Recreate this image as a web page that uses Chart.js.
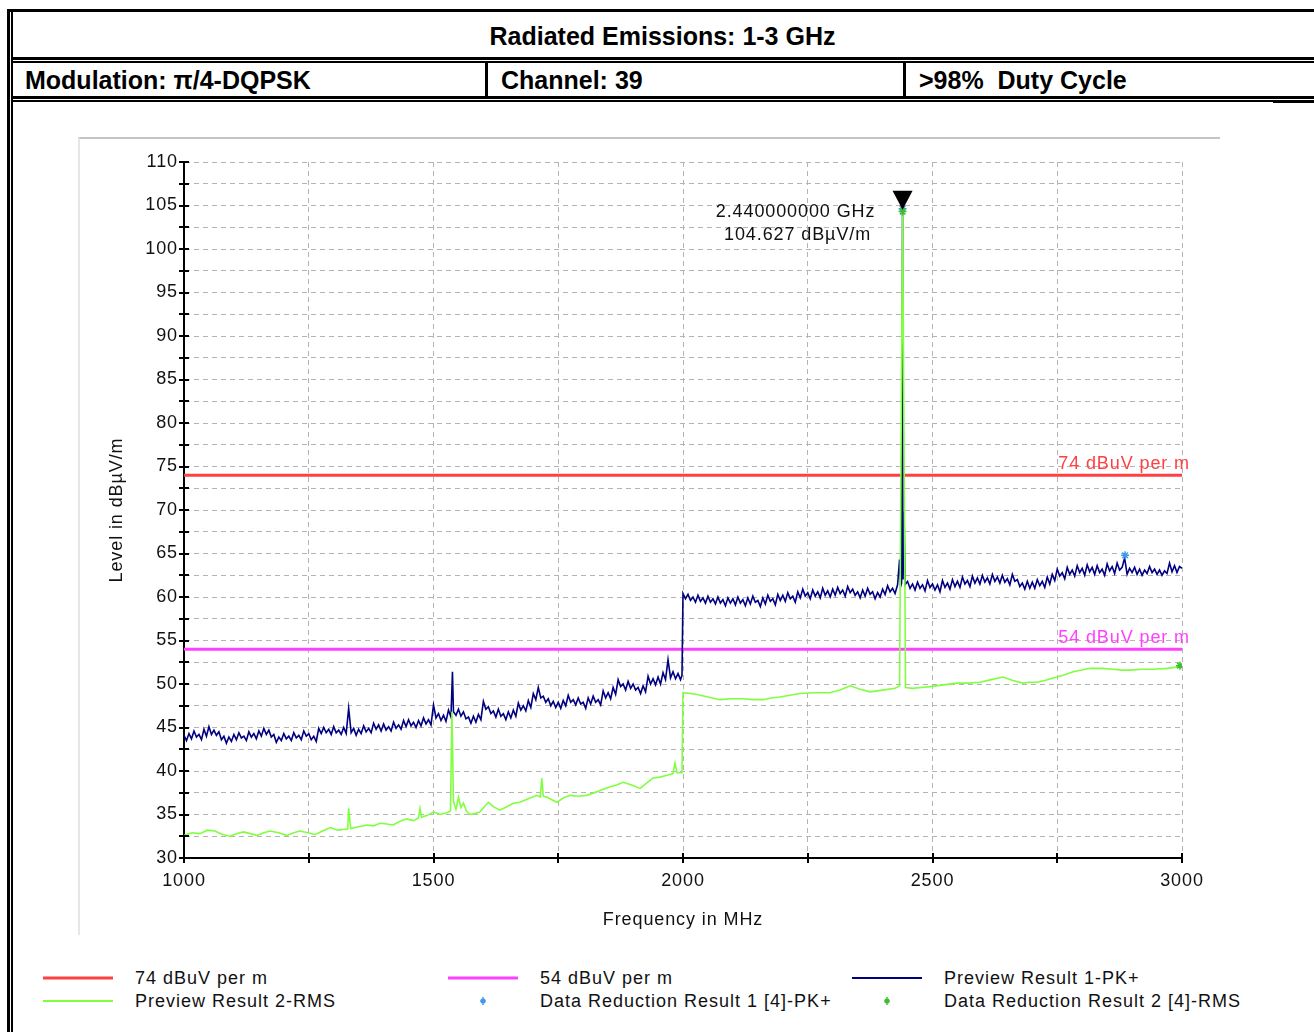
<!DOCTYPE html>
<html>
<head>
<meta charset="utf-8">
<title>Radiated Emissions: 1-3 GHz</title>
<script src="https://cdn.jsdelivr.net/npm/chart.js@4"></script>
<style>
body{margin:0;background:#fff;width:1314px;height:1032px;overflow:hidden;position:relative;font-family:"Liberation Sans",Arial,sans-serif}
.ln{position:absolute;background:#000}
.hd{position:absolute;font-weight:bold;font-size:25px;line-height:30px;white-space:pre;color:#000}
#wrap{position:absolute;left:78px;top:137px;width:1140px;height:796px;border-top:2px solid #c4c4c4;border-left:2px solid #e6e6e6}
#Chart{display:block}
.li{position:absolute;height:22px;font-size:18px;line-height:22px;color:#111;white-space:pre;letter-spacing:1px}
</style>
</head>
<body>
<!-- frame of the report table -->
<div class="ln" style="left:7px;top:9px;width:1307px;height:3px"></div>
<div class="ln" style="left:7px;top:9px;width:3px;height:1023px"></div>
<div class="ln" style="left:11px;top:12px;width:2px;height:1020px"></div>
<div class="ln" style="left:11px;top:57px;width:1303px;height:3px"></div>
<div class="ln" style="left:11px;top:61px;width:1303px;height:2px"></div>
<div class="ln" style="left:11px;top:96px;width:1303px;height:3px"></div>
<div class="ln" style="left:11px;top:100px;width:1262px;height:2px"></div>
<div class="ln" style="left:1273px;top:100px;width:41px;height:3px"></div>
<div class="ln" style="left:485px;top:61px;width:3px;height:37px"></div>
<div class="ln" style="left:903px;top:61px;width:3px;height:37px"></div>

<div class="hd" style="left:11px;width:1303px;top:21px;text-align:center">Radiated Emissions: 1-3 GHz</div>
<div class="hd" style="left:25px;top:65px">Modulation: π/4-DQPSK</div>
<div class="hd" style="left:501px;top:65px">Channel: 39</div>
<div class="hd" style="left:919px;top:65px">&gt;98%  Duty Cycle</div>

<div id="wrap"><canvas id="Chart" width="1140" height="796"></canvas></div>
<div id="legend"></div>

<script>
// limits (dBuV/m) over the scan range (MHz)
const limitFreq = [1000, 3000];
const limitHigh = 74;
const limitLow = 54;

// Preview Result 1-PK+  [MHz, dBuV/m], every 5 MHz
const pkTrace = [
[1000,44.1],[1005,43.5],[1010,44.3],[1015,43.7],[1020,44.6],[1025,43.9],[1030,44.2],[1035,43.6],[1040,44.8],[1045,44.0],
[1050,45.1],[1055,44.2],[1060,44.7],[1065,44.1],[1070,44.5],[1075,43.6],[1080,44.0],[1085,43.2],[1090,43.9],[1095,43.4],
[1100,44.2],[1105,43.6],[1110,44.4],[1115,43.8],[1120,44.0],[1125,43.5],[1130,44.5],[1135,43.9],[1140,44.3],[1145,43.7],
[1150,44.6],[1155,44.0],[1160,44.9],[1165,44.2],[1170,44.7],[1175,43.9],[1180,44.2],[1185,43.3],[1190,43.9],[1195,43.5],
[1200,44.3],[1205,43.7],[1210,44.0],[1215,43.5],[1220,44.4],[1225,43.8],[1230,44.1],[1235,43.6],[1240,44.6],[1245,44.0],
[1250,44.3],[1255,43.6],[1260,44.0],[1265,43.4],[1270,44.9],[1275,44.3],[1280,45.0],[1285,44.4],[1290,44.8],[1295,44.2],
[1300,45.1],[1305,44.4],[1310,44.7],[1315,44.2],[1320,45.0],[1325,44.3],[1330,47.2],[1335,44.4],[1340,44.9],[1345,44.1],
[1350,44.8],[1355,44.3],[1360,45.2],[1365,44.5],[1370,44.9],[1375,44.4],[1380,45.5],[1385,44.8],[1390,45.3],[1395,44.6],
[1400,45.4],[1405,44.7],[1410,45.1],[1415,44.6],[1420,45.6],[1425,44.9],[1430,45.3],[1435,44.8],[1440,45.8],[1445,45.1],
[1450,45.9],[1455,45.2],[1460,45.6],[1465,45.0],[1470,45.8],[1475,45.2],[1480,46.1],[1485,45.4],[1490,45.9],[1495,45.3],
[1500,47.6],[1505,46.1],[1510,46.6],[1515,45.8],[1520,46.4],[1525,45.7],[1530,47.0],[1535,46.2],[1538,51.4],[1540,46.8],[1545,46.4],
[1550,47.1],[1555,46.3],[1560,46.8],[1565,46.0],[1570,46.2],[1575,45.5],[1580,46.3],[1585,45.6],[1590,46.5],[1595,45.9],
[1600,48.0],[1605,47.1],[1610,47.4],[1615,46.6],[1620,46.9],[1625,46.2],[1630,47.1],[1635,46.3],[1640,46.6],[1645,45.9],
[1650,46.8],[1655,46.1],[1660,47.0],[1665,46.3],[1670,47.8],[1675,47.0],[1680,47.5],[1685,46.9],[1690,48.1],[1695,47.3],
[1700,48.9],[1705,48.2],[1710,49.6],[1715,48.4],[1720,48.6],[1725,47.9],[1730,48.3],[1735,47.5],[1740,48.0],[1745,47.3],
[1750,47.9],[1755,47.2],[1760,48.1],[1765,47.5],[1770,48.7],[1775,47.9],[1780,48.2],[1785,47.6],[1790,48.4],[1795,47.7],
[1800,47.9],[1805,47.2],[1810,48.4],[1815,47.7],[1820,48.6],[1825,47.9],[1830,48.2],[1835,47.6],[1840,49.2],[1845,48.4],
[1850,49.0],[1855,48.3],[1860,49.6],[1865,48.8],[1870,50.5],[1875,49.7],[1880,50.0],[1885,49.3],[1890,50.3],[1895,49.5],
[1900,50.0],[1905,49.3],[1910,49.6],[1915,48.9],[1920,49.8],[1925,49.1],[1930,50.9],[1935,50.0],[1940,50.6],[1945,49.9],
[1950,50.8],[1955,50.0],[1960,51.3],[1965,50.5],[1970,52.8],[1975,50.7],[1980,51.4],[1985,50.6],[1990,51.2],[1995,50.5],[1998,51.0],
[2000,60.4],[2005,59.8],[2010,60.3],[2015,59.6],[2020,60.0],[2025,59.4],[2030,60.2],[2035,59.5],[2040,59.9],[2045,59.3],
[2050,60.1],[2055,59.4],[2060,59.8],[2065,59.2],[2070,60.0],[2075,59.3],[2080,59.7],[2085,59.0],[2090,59.9],[2095,59.3],
[2100,59.8],[2105,59.1],[2110,60.0],[2115,59.3],[2120,59.7],[2125,59.0],[2130,59.9],[2135,59.2],[2140,60.1],[2145,59.4],
[2150,59.6],[2155,58.9],[2160,59.9],[2165,59.2],[2170,60.2],[2175,59.5],[2180,59.8],[2185,59.1],[2190,60.3],[2195,59.6],
[2200,60.2],[2205,59.5],[2210,60.5],[2215,59.8],[2220,60.1],[2225,59.4],[2230,60.6],[2235,59.9],[2240,60.9],[2245,60.1],
[2250,60.5],[2255,59.8],[2260,60.8],[2265,60.1],[2270,60.6],[2275,59.9],[2280,61.0],[2285,60.2],[2290,60.7],[2295,60.0],
[2300,60.9],[2305,60.2],[2310,61.1],[2315,60.4],[2320,60.8],[2325,60.1],[2330,61.2],[2335,60.5],[2340,60.9],[2345,60.2],
[2350,60.6],[2355,59.9],[2360,60.8],[2365,60.1],[2370,61.0],[2375,60.3],[2380,60.6],[2385,59.8],[2390,60.5],[2395,60.0],
[2400,60.9],[2405,60.3],[2410,61.3],[2415,60.6],[2420,61.0],[2425,60.4],[2430,61.4],[2434,64.3],[2436,61.2],[2438,61.6],
[2440,104.6],[2441,62.0],[2443,69.8],[2445,61.4],
[2450,61.8],[2455,61.0],[2460,61.5],[2465,60.8],[2470,61.7],[2475,61.0],[2480,61.4],[2485,60.7],[2490,61.9],[2495,61.1],
[2500,61.5],[2505,60.8],[2510,61.4],[2515,60.6],[2520,61.9],[2525,61.1],[2530,61.6],[2535,60.9],[2540,62.0],[2545,61.2],
[2550,61.8],[2555,61.1],[2560,62.3],[2565,61.5],[2570,61.9],[2575,61.2],[2580,62.4],[2585,61.6],[2590,62.2],[2595,61.5],
[2600,62.5],[2605,61.7],[2610,62.2],[2615,61.5],[2620,62.6],[2625,61.8],[2630,62.3],[2635,61.6],[2640,62.5],[2645,61.7],
[2650,62.1],[2655,61.4],[2660,62.6],[2665,61.8],[2670,62.0],[2675,61.2],[2680,61.6],[2685,60.9],[2690,61.8],[2695,61.0],
[2700,61.7],[2705,61.0],[2710,62.0],[2715,61.3],[2720,61.8],[2725,61.1],[2730,62.3],[2735,61.5],[2740,62.6],[2745,61.9],
[2750,63.2],[2755,62.4],[2760,62.8],[2765,62.1],[2770,63.4],[2775,62.6],[2780,63.1],[2785,62.4],[2790,63.6],[2795,62.8],
[2800,63.3],[2805,62.5],[2810,63.7],[2815,62.9],[2820,63.4],[2825,62.6],[2830,63.6],[2835,62.8],[2840,63.2],[2845,62.5],
[2850,63.8],[2855,63.0],[2860,63.5],[2865,62.7],[2870,63.9],[2875,63.1],[2880,63.4],[2885,64.5],[2890,62.6],[2895,63.3],
[2900,62.8],[2905,63.4],[2910,62.6],[2915,63.2],[2920,62.5],[2925,63.1],[2930,62.7],[2935,63.5],[2940,62.8],[2945,63.2],
[2950,62.6],[2955,63.1],[2960,62.5],[2965,63.0],[2970,62.7],[2975,63.9],[2980,62.9],[2985,63.6],[2990,62.8],[2995,63.5],
[3000,63.3]
];

// Preview Result 2-RMS  [MHz, dBuV/m]
const rmsTrace = [
[1000,32.6],[1016,32.9],[1032,32.8],[1047,33.2],[1062,33.1],[1077,32.7],[1092,32.5],[1105,32.8],[1119,33.0],[1133,32.8],
[1146,32.6],[1160,32.9],[1172,33.1],[1190,32.9],[1206,32.6],[1220,32.9],[1232,33.1],[1248,32.9],[1263,32.7],[1278,33.1],
[1293,33.5],[1308,33.2],[1323,33.3],[1328,33.3],[1330,35.7],[1334,33.4],[1350,33.6],[1366,33.8],[1380,33.7],[1393,34.0],
[1406,33.9],[1419,33.8],[1432,34.2],[1446,34.5],[1460,34.3],[1470,34.6],[1473,35.7],[1476,34.7],[1488,34.9],[1500,35.3],
[1514,35.0],[1527,35.2],[1534,35.4],[1537,46.8],[1540,36.5],[1545,35.6],[1550,37.0],[1555,35.8],[1560,36.3],[1566,35.4],
[1573,35.0],[1583,35.1],[1593,35.3],[1602,35.9],[1610,36.4],[1620,35.9],[1633,35.5],[1647,35.9],[1660,36.3],[1673,36.4],
[1690,36.8],[1707,37.2],[1714,37.0],[1717,39.2],[1720,37.1],[1727,37.0],[1737,36.7],[1747,36.4],[1760,36.9],[1774,37.2],
[1790,37.1],[1807,37.2],[1817,37.4],[1827,37.6],[1840,37.9],[1854,38.2],[1867,38.4],[1880,38.7],[1897,38.4],[1914,38.0],
[1927,38.6],[1940,39.2],[1954,39.3],[1968,39.5],[1980,39.7],[1984,40.9],[1988,39.8],[1998,39.8],[2000,49.0],[2014,48.9],
[2028,48.8],[2050,48.5],[2074,48.2],[2097,48.3],[2120,48.3],[2140,48.2],[2160,48.2],[2177,48.4],[2194,48.5],[2214,48.7],
[2234,48.9],[2264,49.0],[2294,49.0],[2315,49.3],[2335,49.8],[2355,49.4],[2375,49.1],[2400,49.3],[2425,49.5],[2434,49.8],
[2440,104.3],[2446,49.6],[2460,49.5],[2478,49.6],[2495,49.7],[2522,49.9],[2549,50.1],[2572,50.1],[2595,50.2],[2618,50.5],
[2641,50.8],[2661,50.4],[2681,50.1],[2695,50.2],[2709,50.2],[2725,50.4],[2742,50.7],[2762,51.0],[2782,51.4],[2799,51.6],
[2816,51.8],[2840,51.8],[2862,51.7],[2880,51.6],[2896,51.6],[2920,51.7],[2942,51.7],[2970,51.8],[2996,52.0],[3000,52.1]
];

// final measurement points
const pkFinal = [[2440,104.627],[2886,64.8]];
const rmsFinal = [[2440,104.3],[2996,52.1]];

// marker
const markerFreq = 2440;
const markerLevel = 104.627;
const markerText = ["2.440000000 GHz", "104.627 dBµV/m"];

const tickFont = {family: "Liberation Sans", size: 18};
const toXY = arr => arr.map(p => ({x: p[0], y: p[1]}));

const chartBits = {
    id: "chartBits",
    beforeDraw(chart) {
        chart.ctx.letterSpacing = "0.9px";
    },
    afterDatasetsDraw(chart) {
        const ctx = chart.ctx;
        const xs = chart.scales.x, ys = chart.scales.y;
        ctx.save();
        // limit labels
        ctx.font = "18px 'Liberation Sans'";
        ctx.textAlign = "right";
        ctx.textBaseline = "middle";
        ctx.fillStyle = "#ff4040";
        ctx.fillText("74 dBuV per m", xs.right + 8, ys.getPixelForValue(limitHigh) - 11);
        ctx.fillStyle = "#ff40ff";
        ctx.fillText("54 dBuV per m", xs.right + 8, ys.getPixelForValue(limitLow) - 11);
        // marker
        const mx = xs.getPixelForValue(markerFreq), my = ys.getPixelForValue(markerLevel);
        ctx.fillStyle = "#000";
        ctx.beginPath();
        ctx.moveTo(mx, my + 1);
        ctx.lineTo(mx - 10, my - 18);
        ctx.lineTo(mx + 10, my - 18);
        ctx.closePath();
        ctx.fill();
        ctx.textAlign = "center";
        ctx.fillStyle = "#111";
        ctx.fillText(markerText[0], mx - 107, my + 3);
        ctx.fillText(markerText[1], mx - 105, my + 26);
        ctx.restore();
    },
    afterDraw(chart) {
        const ctx = chart.ctx;
        const xs = chart.scales.x, ys = chart.scales.y;
        ctx.save();
        ctx.strokeStyle = "#000";
        ctx.lineWidth = 2;
        ctx.beginPath();
        ys.ticks.forEach(t => {
            const py = Math.round(ys.getPixelForValue(t.value));
            ctx.moveTo(xs.left - 5, py);
            ctx.lineTo(xs.left + 5, py);
        });
        xs.ticks.forEach(t => {
            const px = Math.round(xs.getPixelForValue(t.value));
            ctx.moveTo(px, ys.bottom - 5);
            ctx.lineTo(px, ys.bottom + 5);
        });
        ctx.stroke();
        ctx.restore();
    }
};

var myChart = new Chart(document.getElementById("Chart"), {
    type: "line",
    data: {
        datasets: [
            {label: "74 dBuV per m", data: toXY([[limitFreq[0], limitHigh], [limitFreq[1], limitHigh]]),
             borderColor: "#ff4040", borderWidth: 3, pointRadius: 0, order: 5},
            {label: "54 dBuV per m", data: toXY([[limitFreq[0], limitLow], [limitFreq[1], limitLow]]),
             borderColor: "#ff40ff", borderWidth: 3, pointRadius: 0, order: 4},
            {label: "Preview Result 1-PK+", data: toXY(pkTrace),
             borderColor: "#000080", borderWidth: 1.6, pointRadius: 0, order: 3},
            {label: "Preview Result 2-RMS", data: toXY(rmsTrace),
             borderColor: "#80ff40", borderWidth: 1.6, pointRadius: 0, order: 2},
            {label: "Data Reduction Result 1 [4]-PK+", data: toXY(pkFinal), showLine: false,
             borderColor: "#3d9be9", backgroundColor: "#3d9be9", pointStyle: "star", pointRadius: 4, borderWidth: 1.5, order: 1},
            {label: "Data Reduction Result 2 [4]-RMS", data: toXY(rmsFinal), showLine: false,
             borderColor: "#3cbf2c", backgroundColor: "#3cbf2c", pointStyle: "star", pointRadius: 4, borderWidth: 1.5, order: 0}
        ]
    },
    options: {
        responsive: false,
        animation: false,
        devicePixelRatio: 1,
        events: [],
        layout: {padding: {top: 23, right: 38, left: 0, bottom: 0}},
        elements: {line: {tension: 0}},
        plugins: {legend: {display: false}, tooltip: {enabled: false}},
        scales: {
            x: {
                type: "linear", min: 1000, max: 3000,
                ticks: {stepSize: 250, autoSkip: false, maxRotation: 0, padding: 12, color: "#111", font: tickFont,
                        callback: v => v % 500 === 0 ? String(v) : ""},
                grid: {color: "#b4b4b4", lineWidth: 1, drawTicks: false},
                border: {color: "#000", width: 2, dash: [5, 4]},
                title: {display: true, text: "Frequency in MHz", color: "#111", font: tickFont, padding: {top: 0, bottom: 4}},
                afterFit(s) { s.height = 77; s.paddingLeft = 0; s.paddingRight = 0; }
            },
            y: {
                min: 30, max: 110,
                ticks: {stepSize: 2.5, autoSkip: false, padding: 6, color: "#111", font: tickFont,
                        callback: v => v % 5 === 0 ? String(v) : ""},
                grid: {color: "#b4b4b4", lineWidth: 1, drawTicks: false},
                border: {color: "#000", width: 2, dash: [5, 4]},
                title: {display: true, text: "Level in dBµV/m", color: "#111", font: tickFont, padding: {top: 26, bottom: 0}},
                afterFit(s) { s.width = 104; s.paddingTop = 0; s.paddingBottom = 0; }
            }
        }
    },
    plugins: [chartBits]
});

// legend, 3 columns x 2 rows, built from the chart datasets
const legendCols = [43, 448, 852];
const legendRows = [967, 990];
myChart.data.datasets.forEach((ds, i) => {
    const left = legendCols[i % 3], top = legendRows[Math.floor(i / 3)];
    const item = document.createElement("div");
    item.className = "li";
    item.style.left = left + "px";
    item.style.top = top + "px";
    const c = document.createElement("canvas");
    c.width = 70; c.height = 22;
    c.style.cssText = "position:absolute;left:0;top:0";
    const g = c.getContext("2d");
    g.strokeStyle = ds.borderColor;
    if (ds.showLine === false) {
        g.lineWidth = 1.5;
        g.beginPath();
        g.moveTo(35, 7); g.lineTo(35, 15);
        g.moveTo(32, 11); g.lineTo(38, 11);
        g.moveTo(33, 9); g.lineTo(37, 13);
        g.moveTo(37, 9); g.lineTo(33, 13);
        g.stroke();
    } else {
        g.lineWidth = ds.borderWidth >= 3 ? 3 : 2;
        g.beginPath();
        g.moveTo(0, 11); g.lineTo(70, 11);
        g.stroke();
    }
    item.appendChild(c);
    const t = document.createElement("span");
    t.style.cssText = "position:absolute;left:92px;top:0";
    t.textContent = ds.label;
    item.appendChild(t);
    document.getElementById("legend").appendChild(item);
});
</script>
</body>
</html>
